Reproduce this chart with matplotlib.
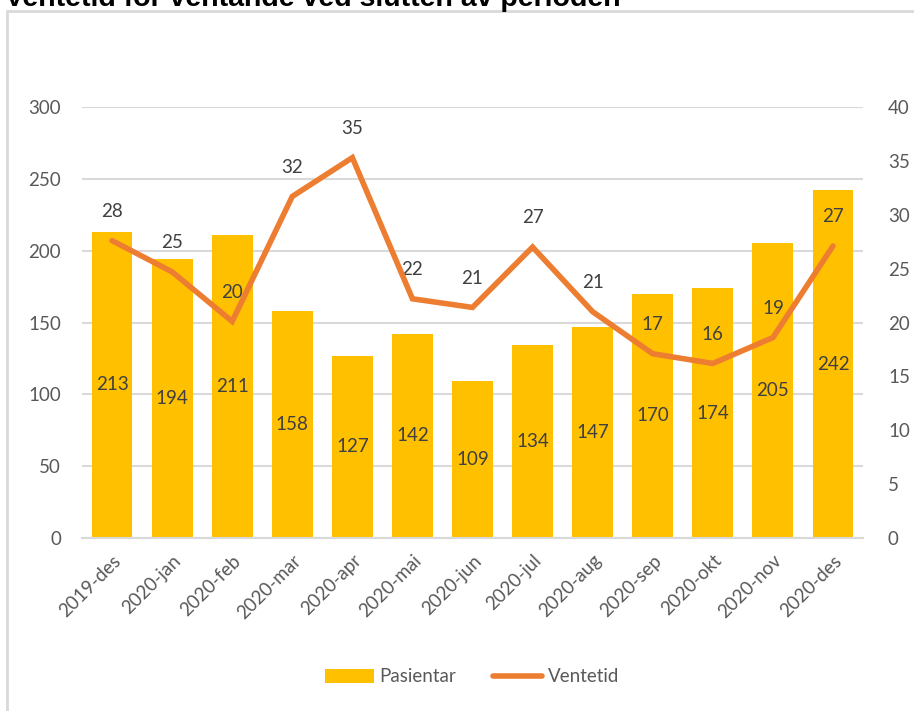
import matplotlib
matplotlib.use("Agg")
import matplotlib.pyplot as plt
from matplotlib.patches import Rectangle

plt.rcParams['font.family'] = ['Lato', 'DejaVu Sans']

# data
months = ['2019-des', '2020-jan', '2020-feb', '2020-mar', '2020-apr', '2020-mai',
          '2020-jun', '2020-jul', '2020-aug', '2020-sep', '2020-okt', '2020-nov',
          '2020-des']
pasientar = [213, 194, 211, 158, 127, 142, 109, 134, 147, 170, 174, 205, 242]
ventetid = [27.6, 24.7, 20.1, 31.7, 35.3, 22.2, 21.4, 27.0, 21.0, 17.1, 16.2, 18.6, 27.1]

bar_col = '#FFC000'
line_col = '#ED7D31'
txt_col = '#595959'
lab_col = '#404040'
grid_col = '#D9D9D9'
fs = 13.5

fig = plt.figure(figsize=(9.14, 7.11), dpi=100)

# outer chart border (clipped by the image on right/bottom)
fig.patches.append(Rectangle((7 / 914, -0.05), 1.0, 1 - 11 / 711 + 0.05,
                             transform=fig.transFigure, fill=False,
                             edgecolor=grid_col, linewidth=2))

fig.text(5 / 914, 1 - 6 / 711, 'Ventetid for ventande ved slutten av perioden',
         fontsize=20.5, fontweight='bold', color='black', ha='left', va='baseline',
         family=['Liberation Sans', 'DejaVu Sans'])

ax = fig.add_axes([82 / 914, 1 - 538 / 711, (863 - 82) / 914, (538 - 107) / 711])
ax2 = ax.twinx()

x = list(range(len(months)))
bars = ax.bar(x, pasientar, width=0.68, color=bar_col, zorder=2, label='Pasientar')
for xi, v in zip(x, pasientar):
    ax.text(xi, v / 2, str(v), ha='center', va='center', fontsize=fs, color=lab_col, zorder=3)

ln, = ax2.plot(x, ventetid, color=line_col, linewidth=4, solid_capstyle='round',
               solid_joinstyle='miter', label='Ventetid', zorder=4)
for xi, v in zip(x, ventetid):
    ax2.annotate(str(int(round(v))), (xi, v), xytext=(0, 21), textcoords='offset points',
                 ha='center', va='center', fontsize=fs, color=lab_col)

ax.set_xlim(-0.5, len(months) - 0.5)
ax.set_ylim(0, 300)
ax.set_yticks(range(0, 301, 50))
ax2.set_ylim(0, 40)
ax2.set_yticks(range(0, 41, 5))

ax.yaxis.grid(True, color=grid_col, linewidth=1.5, zorder=0)
ax.set_axisbelow(True)
for a in (ax, ax2):
    for s in a.spines.values():
        s.set_visible(False)
ax.spines['bottom'].set_visible(True)
ax.spines['bottom'].set_color(grid_col)
ax.spines['bottom'].set_linewidth(1.5)

ax.tick_params(axis='y', length=0, pad=15, labelsize=fs, labelcolor=txt_col)
ax2.tick_params(axis='y', length=0, pad=18, labelsize=fs, labelcolor=txt_col)
ax.set_xticks(x)
ax.set_xticklabels(months, rotation=45, ha='right', rotation_mode='anchor')
ax.tick_params(axis='x', length=0, pad=10, labelsize=fs, labelcolor=txt_col)

ax.set_zorder(1)
ax2.set_zorder(2)

fig.legend([bars, ln], ['Pasientar', 'Ventetid'], loc='center',
           bbox_to_anchor=(472 / 914, 1 - 677 / 711), ncol=2, frameon=False,
           fontsize=fs, labelcolor=txt_col, handlelength=2.6, handletextpad=0.3,
           columnspacing=2.0)

fig.savefig('out.png', dpi=100)
